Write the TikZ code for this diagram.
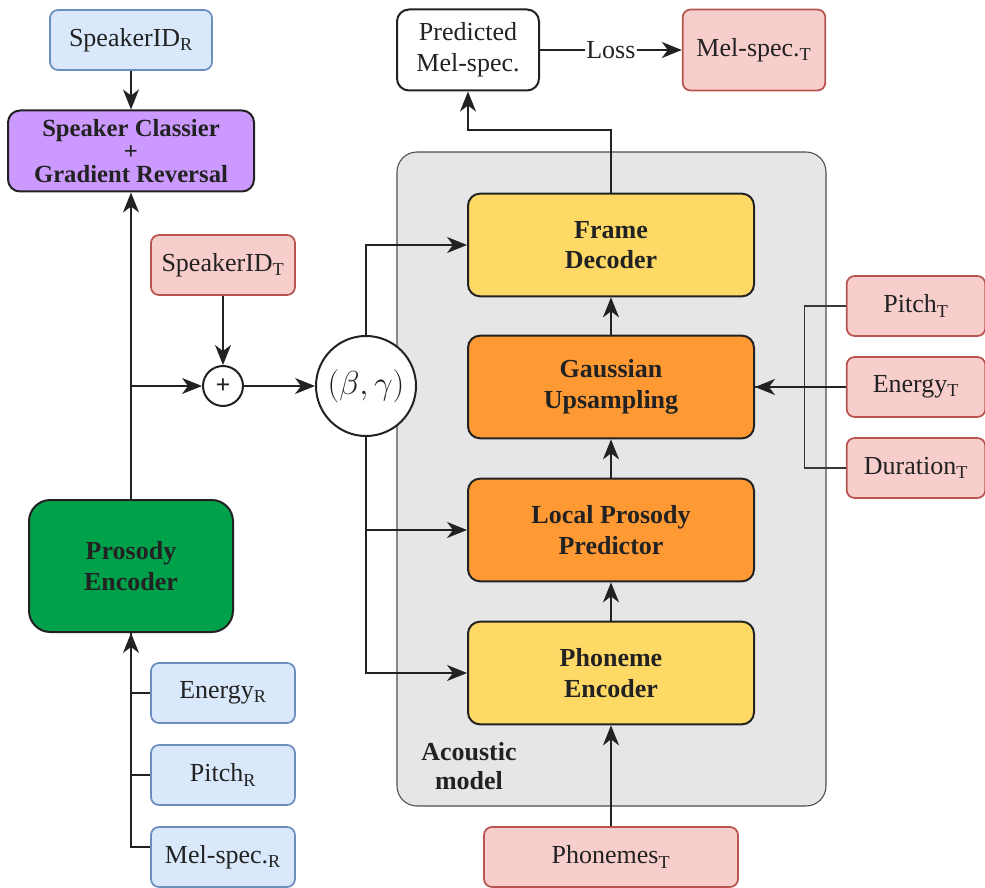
\documentclass[tikz,border=0pt]{standalone}
\usepackage{amsmath}
\usepackage{fontspec}
\setmainfont{Liberation Serif}
\usepackage{xcolor}
\usepackage{tikz}
\usetikzlibrary{arrows.meta}

\definecolor{refblue}{HTML}{DAE8FC}
\definecolor{refblueline}{HTML}{6C8EBF}
\definecolor{tgtred}{HTML}{F8CECC}
\definecolor{tgtredline}{HTML}{B85450}
\definecolor{blockyellow}{HTML}{FFD966}
\definecolor{blockorange}{HTML}{FF9933}
\definecolor{encgreen}{HTML}{00A14B}
\definecolor{clspurple}{HTML}{CC99FF}
\definecolor{modelgray}{HTML}{E6E6E6}
\definecolor{ink}{HTML}{222222}

\tikzset{
  every node/.style={font=\fontsize{19.5}{23}\selectfont, text=ink},
  refbox/.style={draw=refblueline, fill=refblue, line width=1.3pt, rounded corners=6pt,
    minimum width=108pt, minimum height=45pt},
  tgtbox/.style={draw=tgtredline, fill=tgtred, line width=1.3pt, rounded corners=6pt,
    minimum width=108pt, minimum height=45pt},
  block/.style={draw=ink, line width=1.5pt, rounded corners=9pt, align=center,
    minimum width=214.5pt, minimum height=77pt, font=\fontsize{19.5}{23}\selectfont\bfseries},
  wire/.style={draw=ink, line width=1.5pt, -{Stealth[length=15pt,width=12pt,inset=4.5pt]}},
  plainwire/.style={draw=ink, line width=1.5pt},
  thinwire/.style={draw=ink!90, line width=1pt},
}

\begin{document}
\begin{tikzpicture}[x=0.75pt, y=-0.75pt]
  \useasboundingbox (0,0) rectangle (985,888);

  % acoustic model container
  \node[draw=ink!80, line width=0.8pt, fill=modelgray, rounded corners=15pt,
    minimum width=321.75pt, minimum height=490.5pt] (acoustic) at (611.5,479) {};
  \node[font=\fontsize{19.5}{22}\selectfont\bfseries, align=center] (aclabel) at (469,766) {Acoustic\\model};

  % reference side
  \node[refbox, minimum width=121.5pt] (spkR) at (131,40) {SpeakerID$_\text{R}$};
  \node[block, fill=clspurple, minimum width=184.5pt, minimum height=60.75pt,
    font=\fontsize{18.5}{22}\selectfont\bfseries] (cls) at (131,151)
    {Speaker Classier\\[-5pt]+\\[-5pt]Gradient Reversal};
  \node[block, fill=encgreen, minimum width=153pt, minimum height=99pt, rounded corners=16pt] (penc) at (131,566) {Prosody\\Encoder};
  \node[refbox] (energyR) at (223,693) {Energy$_\text{R}$};
  \node[refbox] (pitchR) at (223,775) {Pitch$_\text{R}$};
  \node[refbox] (melR) at (223,857) {Mel-spec.$_\text{R}$};

  % target speaker and conditioning
  \node[tgtbox] (spkT) at (223,265) {SpeakerID$_\text{T}$};
  \node[circle, draw=ink, line width=1.5pt, fill=white, minimum size=30pt, inner sep=0pt,
    font=\fontsize{19.5}{23}\selectfont\bfseries] (plus) at (223,386) {+};
  \node[circle, draw=ink, line width=1.5pt, fill=white, minimum size=75pt, inner sep=0pt,
    font=\fontsize{25}{30}\selectfont] (film) at (366,386) {$(\beta,\gamma)$};

  % acoustic model blocks
  \node[block, fill=blockyellow] (fdec) at (611,245) {Frame\\Decoder};
  \node[block, fill=blockorange] (gup) at (611,387) {Gaussian\\Upsampling};
  \node[block, fill=blockorange] (lpp) at (611,530) {Local Prosody\\Predictor};
  \node[block, fill=blockyellow] (phenc) at (611,673) {Phoneme\\Encoder};

  % outputs and targets
  \node[draw=ink, line width=1.5pt, fill=white, rounded corners=9pt, align=center,
    minimum width=106.5pt, minimum height=60.75pt] (pred) at (468,50) {Predicted\\Mel-spec.};
  \node[tgtbox, minimum width=107pt, minimum height=60.75pt] (melT) at (754,50) {Mel-spec.$_\text{T}$};
  \node[tgtbox, minimum width=104pt] (pitchT) at (916,306) {Pitch$_\text{T}$};
  \node[tgtbox, minimum width=104pt] (energyT) at (916,387) {Energy$_\text{T}$};
  \node[tgtbox, minimum width=104pt] (durT) at (916,468) {Duration$_\text{T}$};
  \node[tgtbox, minimum width=190.5pt] (phonT) at (611,857) {Phonemes$_\text{T}$};

  % connectors
  \draw[wire] (spkR) -- (cls);
  \draw[wire] (penc) -- (cls);
  \draw[wire] (penc.north |- plus) -- (plus);
  \draw[wire] (spkT) -- (plus);
  \draw[wire] (plus) -- (film);
  \draw[wire] (film.north) |- (fdec.west);
  \draw[wire] (film.south) |- (phenc.west);
  \draw[wire] (film.south |- lpp.west) -- (lpp.west);
  \draw[wire] (energyR.west) -| (penc.south);
  \draw[plainwire] (pitchR.west) -| (penc.south);
  \draw[plainwire] ([yshift=7.5pt]melR.west) -| (penc.south);
  \draw[wire] (phonT) -- (phenc);
  \draw[wire] (phenc) -- (lpp);
  \draw[wire] (lpp) -- (gup);
  \draw[wire] (gup) -- (fdec);
  \draw[wire] (fdec.north) -- ++(0,-63) -| (pred.south);
  \draw[wire] (pred) -- node[fill=white, inner sep=1pt] (loss) {Loss} (melT);
  \draw[thinwire] (pitchT.west) -- ++(-41,0) |- (gup.east);
  \draw[thinwire] (durT.west) -- ++(-41,0) |- (gup.east);
  \draw[wire] (energyT) -- (gup);
\end{tikzpicture}
\end{document}
